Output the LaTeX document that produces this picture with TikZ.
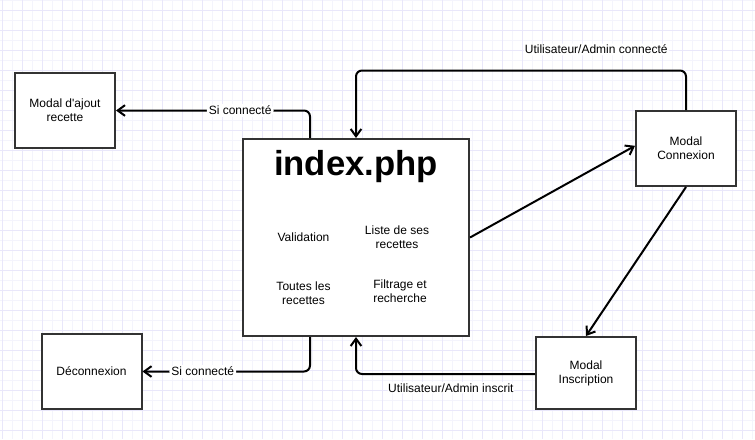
\documentclass[tikz,border=0pt]{standalone}
\usepackage{fontspec}
\setmainfont{Liberation Sans}
\usetikzlibrary{arrows.meta}

\definecolor{gridlight}{RGB}{244,244,252}
\definecolor{griddark}{RGB}{233,231,250}
\definecolor{boxline}{RGB}{51,51,51}

\tikzset{every picture/.style={line width=0.75pt}}
\tikzset{
  box/.style={draw=boxline, line width=1.5pt, fill=white, rectangle, inner sep=0pt,
    minimum width=75pt, minimum height=56.25pt, align=center, font=\fontsize{9}{10.5}\selectfont},
  txt/.style={inner sep=0.75pt, align=center, font=\fontsize{9}{10.5}\selectfont},
  link/.style={draw=black, line width=1.5pt, rounded corners=4.5pt,
    -{Straight Barb[length=5.5pt,width=8pt,line width=1.5pt]}},
  lbl/.style={fill=white, inner sep=1.5pt, font=\fontsize{9}{10.5}\selectfont}
}

\begin{document}
\begin{tikzpicture}[x=0.75pt,y=0.75pt,yscale=-1,xscale=1]
\useasboundingbox (0,0) rectangle (755,439);
\fill[white] (0,0) rectangle (755,439);

%Grid
\foreach \x in {12,32,...,755} \draw[gridlight] (\x,0) -- (\x,439);
\foreach \y in {0,20,...,439} \draw[gridlight] (0,\y) -- (755,\y);
\foreach \x in {2,22,...,755} \draw[griddark] (\x,0) -- (\x,439);
\foreach \y in {10,30,...,439} \draw[griddark] (0,\y) -- (755,\y);

%Shape: Rectangle [index]
\node[box, minimum width=169.5pt, minimum height=147.75pt] (index) at (356,237.5) {};
%Shape: Rectangle [ajout]
\node[box] (ajout) at (65,110.5) {Modal d\textquotesingle ajout\\recette};
%Shape: Rectangle [connexion]
\node[box] (connexion) at (686,148.5) {Modal\\Connexion};
%Shape: Rectangle [inscription]
\node[box, minimum height=54pt] (inscription) at (586,373) {Modal\\Inscription};
%Shape: Rectangle [deconnexion]
\node[box] (deconnexion) at (91.5,371.5) {Déconnexion};

% Text Node
\node[inner sep=0pt, font=\fontsize{26}{30}\selectfont\bfseries] (title) at (356,166.5) {index.php};
% Text Node
\node[txt] (validation) at (303.5,237.5) {Validation};
% Text Node
\node[txt] (liste) at (397,237) {Liste de ses\\recettes};
% Text Node
\node[txt] (toutes) at (303.5,293) {Toutes les\\recettes};
% Text Node
\node[txt] (filtrage) at (400,291) {Filtrage et\\recherche};

%Straight Lines [index -> ajout]
\draw[link] ([xshift=-34.5pt]index.north) |- (ajout.east) node[lbl, pos=0.68] (siajout) {Si connecté};
%Straight Lines [connexion -> index]
\draw[link] (connexion.north) -- ++(0,-39.5) -| (index.north) node[lbl, inner sep=1pt, pos=0.136, yshift=15.75pt] (lblconnecte) {Utilisateur/Admin connecté};
%Straight Lines [index -> connexion]
\draw[link] (index.east) -- ([yshift=-2pt]connexion.west);
%Straight Lines [connexion -> inscription]
\draw[link] (connexion.south) -- (inscription.north);
%Straight Lines [inscription -> index]
\draw[link] ([yshift=0.75pt]inscription.west) -| (index.south) node[lbl, inner sep=1pt, pos=0.235, yshift=-10.3pt] (lblinscrit) {Utilisateur/Admin inscrit};
%Straight Lines [index -> deconnexion]
\draw[link] ([xshift=-34.5pt]index.south) |- (deconnexion.east) node[lbl, pos=0.82] (sidecon) {Si connecté};

\end{tikzpicture}
\end{document}
